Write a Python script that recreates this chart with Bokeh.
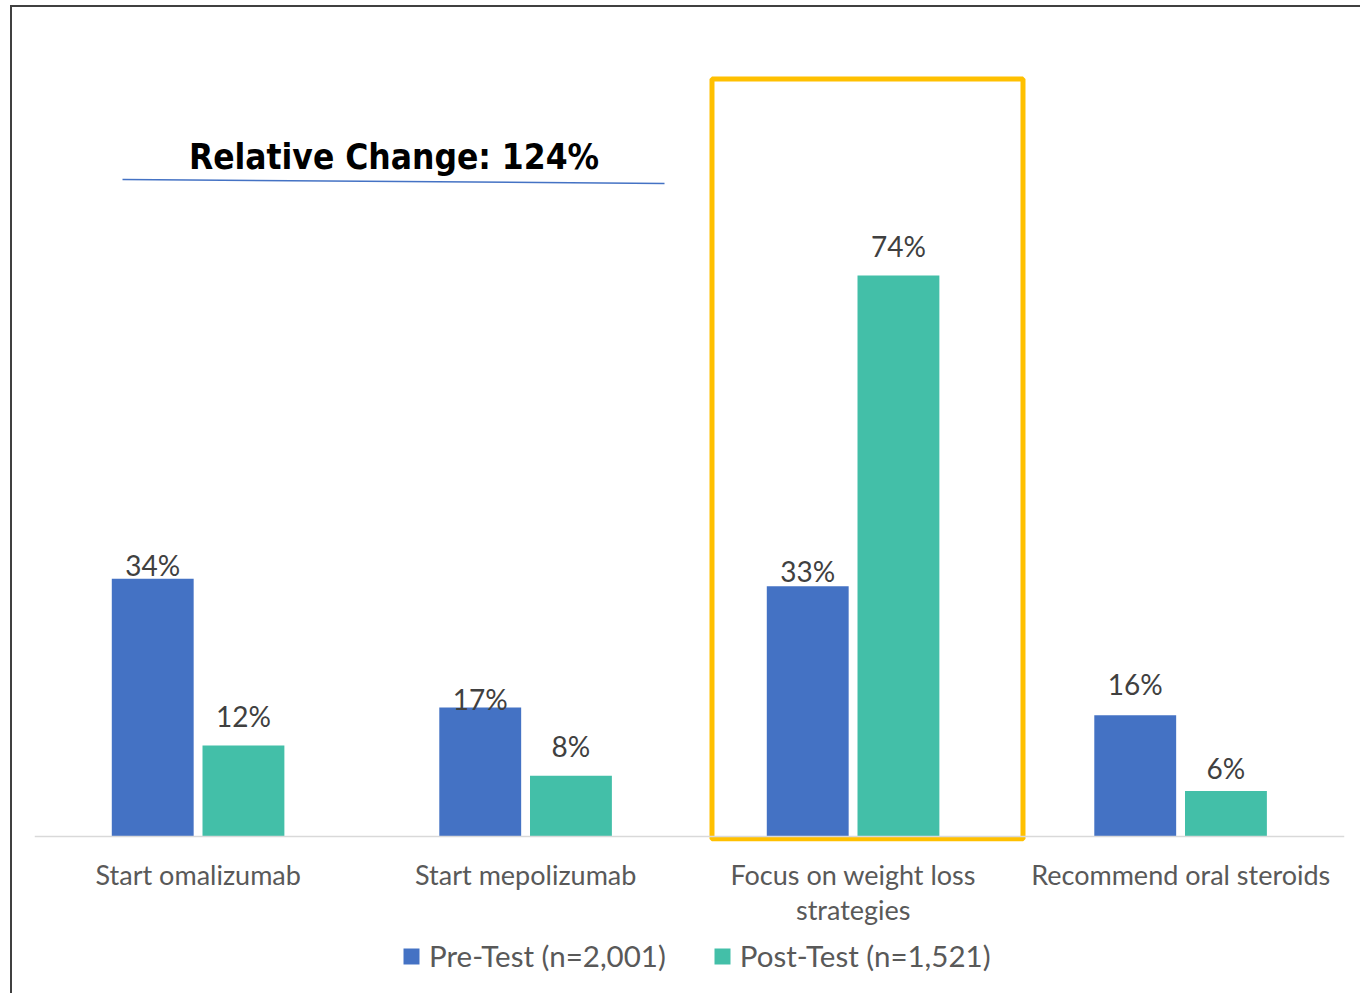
from bokeh.plotting import figure
from bokeh.layouts import column
from bokeh.models import (ColumnDataSource, FactorRange, Label, Legend, LegendItem, Span)
from bokeh.transform import dodge
from bokeh.core.properties import value
from bokeh.embed import file_html
from bokeh.resources import INLINE

categories = ["Start omalizumab", "Start mepolizumab",
              "Focus on weight loss\nstrategies", "Recommend oral steroids"]
pre_test = [34, 17, 33, 16]
post_test = [12, 8, 74, 6]
pre_name = "Pre-Test (n=2,001)"
post_name = "Post-Test (n=1,521)"
title_text = "Relative Change: 124%"
highlight_category = 2

pre_labels = [f"{v}%" for v in pre_test]
post_labels = [f"{v}%" for v in post_test]
pre_label_offsets = [-14, -9, -15, -31]
post_label_offsets = [-30, -30, -30, -23]

BLUE = "#4472C4"
TEAL = "#43BFA8"
GOLD = "#FFC000"
LABEL = "#404040"
AXIS_TXT = "#595959"
FONT = "Lato"

src = ColumnDataSource(dict(cat=categories, pre=pre_test, post=post_test,
                            pre_lab=pre_labels, post_lab=post_labels,
                            pre_off=pre_label_offsets, post_off=post_label_offsets))

p = figure(width=1348, height=930, x_range=FactorRange(factors=categories, range_padding=0),
           y_range=(-0.66, 105.0), output_backend="svg", toolbar_location=None,
           min_border_left=22, min_border_right=16, min_border_top=33,
           min_border_bottom=96)
p.outline_line_color = None
p.grid.visible = False
p.yaxis.visible = False
p.background_fill_color = "white"
p.border_fill_color = "white"

xa = p.xaxis[0]
xa.axis_line_color = None
xa.major_tick_line_color = None
xa.minor_tick_line_color = None
xa.major_label_text_font = FONT
xa.major_label_text_font_size = "27px"
xa.major_label_text_color = AXIS_TXT
xa.major_label_text_line_height = 1.08
xa.major_label_standoff = 10

p.add_layout(Span(location=0, dimension="width", line_color="#D9D9D9", line_width=1.5))

p.vbar(x=dodge("cat", -0.139, range=p.x_range), top="pre", width=0.25,
       source=src, fill_color=BLUE, line_color=None)
p.vbar(x=dodge("cat", 0.138, range=p.x_range), top="post", width=0.25,
       source=src, fill_color=TEAL, line_color=None)

p.text(x=dodge("cat", -0.139, range=p.x_range), y="pre", text="pre_lab", source=src,
       text_align="center", text_baseline="middle", y_offset="pre_off",
       text_font=value(FONT), text_font_size="28px", text_color=LABEL)
p.text(x=dodge("cat", 0.138, range=p.x_range), y="post", text="post_lab", source=src,
       text_align="center", text_baseline="middle", y_offset="post_off",
       text_font=value(FONT), text_font_size="28px", text_color=LABEL)

# highlight box around the third category
p.quad(left=[highlight_category + 0.0687], right=[highlight_category + 1.0183],
       bottom=[-0.33], top=[99.92], fill_color=None, line_color=GOLD, line_width=5)

# title + underline
p.add_layout(Label(x=1.0977, y=89.57, text=title_text, text_align="center",
                   text_baseline="middle", text_font="DejaVu Sans Condensed",
                   text_font_style="bold", text_font_size="35px", text_color="black"))
p.segment(x0=[0.2687], y0=[86.66], x1=[1.9237], y1=[86.14], line_color=BLUE, line_width=1.5)

# legend strip below the chart (legend swatches use off-screen placeholder bars)
lg = figure(width=1348, height=56, output_backend="svg", toolbar_location=None,
            x_range=(0, 1), y_range=(0, 1), min_border=0)
lg.axis.visible = False
lg.grid.visible = False
lg.outline_line_color = None
lg.border_fill_color = "white"
placeholder = ColumnDataSource(dict(x=[-10], top=[-10]))
r_pre = lg.vbar(x="x", top="top", width=0.1, source=placeholder, fill_color=BLUE, line_color=None)
r_post = lg.vbar(x="x", top="top", width=0.1, source=placeholder, fill_color=TEAL, line_color=None)

legend = Legend(items=[LegendItem(label=pre_name, renderers=[r_pre]),
                       LegendItem(label=post_name, renderers=[r_post])],
                orientation="horizontal", location=(367, 20),
                label_text_font=FONT, label_text_font_size="29.5px",
                label_text_color=AXIS_TXT, glyph_width=20, glyph_height=20,
                label_standoff=8, spacing=46, padding=0, margin=0,
                border_line_color=None, background_fill_alpha=0)
lg.add_layout(legend, "center")

layout = column(p, lg, spacing=0)
layout.styles = {"border-left": "2px solid #404040", "border-top": "2px solid #404040",
                 "margin-left": "10px", "margin-top": "5px"}

open("out.html", "w").write(file_html(layout, INLINE))
